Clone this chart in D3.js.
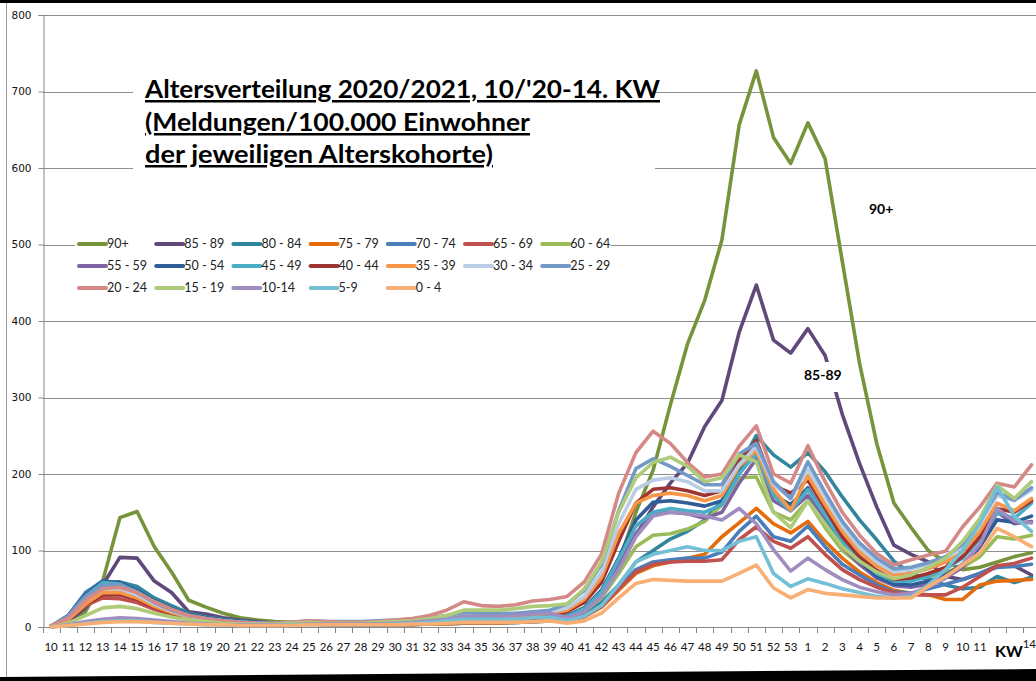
<!DOCTYPE html>
<html>
<head>
<meta charset="utf-8">
<style>
  body { margin: 0; background: #fff; }
  svg  { display: block; font-family: Lato, "Open Sans", sans-serif; }
</style>
<title>Altersverteilung 2020/2021</title>
</head>
<body>
<script src="https://cdn.jsdelivr.net/npm/d3@7/dist/d3.min.js"></script>
<script>

// data /////////////////////////////////////////////////////////////////////

// Kalenderwochen 10/2020 .. 14/2021
var weeks = [10,11,12,13,14,15,16,17,18,19,20,21,22,23,24,25,26,27,28,29,30,31,32,33,34,35,36,37,38,39,
             40,41,42,43,44,45,46,47,48,49,50,51,52,53,1,2,3,4,5,6,7,8,9,10,11,12,13,14];

// week labels hidden behind the "KW" box in the original
var hiddenWeeks = [55, 56];

var groups = ["90+", "85 - 89", "80 - 84", "75 - 79", "70 - 74", "65 - 69", "60 - 64",
              "55 - 59", "50 - 54", "45 - 49", "40 - 44", "35 - 39", "30 - 34", "25 - 29",
              "20 - 24", "15 - 19", "10-14", "5-9", "0 - 4"];

var colors = ["#77933C", "#5F497A", "#31859C", "#E46C0A", "#4A7EBB", "#C0504D", "#9BBB59",
              "#8064A2", "#2F5D96", "#4BACC6", "#9E3431", "#F79646", "#B9CDE5", "#7399C6",
              "#D58986", "#AECB7A", "#A08DC0", "#72BFD6", "#F9AE74"];

// Meldungen / 100.000 Einwohner, one value per week
var a90   = [2,5,20,60,143,151,105,72,35,26,18,12,9,7,6,6,5,5,4,4,4,4,5,6,7,7,7,8,9,11,
             15,25,45,85,150,205,290,370,427,506,656,727,640,606,659,612,478,345,240,162,130,100,85,75,78,85,92,97];
var a85   = [1,7,25,55,91,90,60,45,20,17,12,9,7,5,5,5,4,4,4,4,4,4,5,5,6,6,6,7,8,10,
             12,20,40,75,120,157,188,214,262,296,385,447,375,358,390,355,278,214,157,107,95,85,66,62,70,80,80,68];
var a80   = [1,10,40,57,59,53,38,28,18,13,10,8,6,5,4,4,4,3,3,3,3,3,4,4,5,5,5,6,7,8,
             10,18,32,55,85,100,115,125,140,165,210,250,225,209,228,203,170,140,114,86,70,62,55,50,52,66,58,65];
var a75   = [1,10,30,45,45,40,28,20,13,10,8,6,5,4,4,4,3,3,3,3,3,3,4,4,5,5,5,6,7,8,
             8,13,26,48,70,80,85,90,95,118,136,155,135,123,138,112,90,72,58,48,44,42,36,36,55,60,61,62];
var a70   = [1,15,45,60,57,45,32,22,14,10,8,6,5,4,4,4,3,3,3,3,4,4,5,5,6,6,6,6,7,8,
             8,14,28,52,75,85,88,90,90,98,125,145,118,112,132,105,82,68,55,46,44,50,56,62,70,78,79,82];
var a65   = [1,10,28,38,37,32,23,16,10,8,6,5,4,3,3,4,3,3,3,3,4,4,5,6,7,7,7,7,8,9,
             8,14,27,50,72,82,85,86,86,88,114,131,112,103,118,95,75,62,52,45,42,42,42,52,66,80,83,90];
var a60   = [1,12,35,50,50,42,30,21,14,10,8,6,5,4,4,5,4,4,4,4,5,5,6,7,8,8,8,8,9,10,
             12,20,38,70,105,120,122,128,138,160,195,196,150,140,165,130,100,82,68,60,62,66,72,78,92,118,115,120];
var a55   = [1,13,38,55,55,46,33,23,15,11,8,6,5,4,5,6,5,5,5,5,6,6,7,8,10,10,10,10,11,12,
             13,22,42,80,122,148,150,148,142,150,188,220,165,152,172,140,105,82,64,54,52,56,64,78,105,150,135,138];
var a50   = [1,15,42,60,58,48,34,24,16,12,9,7,5,4,5,6,5,5,5,5,6,7,8,9,11,11,11,11,12,14,
             15,25,48,90,140,163,165,162,158,165,205,235,172,160,182,146,110,86,66,56,55,60,68,82,105,140,137,145];
var a45   = [1,14,40,58,56,46,33,23,15,11,8,6,5,4,5,6,5,5,5,5,6,7,8,10,12,12,12,12,13,15,
             14,24,46,88,132,150,155,152,150,160,200,228,172,152,180,146,112,88,70,60,60,66,76,90,115,150,142,162];
var a40   = [1,10,30,42,42,36,26,18,12,9,7,5,4,4,4,6,5,5,5,5,6,7,8,10,12,12,12,12,13,15,
             20,32,58,112,162,180,182,178,172,178,218,244,185,175,192,155,118,92,74,62,64,70,78,92,118,155,150,165];
var a35   = [1,10,30,45,45,38,27,19,13,9,7,5,4,4,5,6,5,5,5,6,7,8,10,12,14,14,14,14,16,18,
             22,36,65,122,162,172,175,172,165,172,210,231,180,153,198,160,125,98,80,68,70,76,85,98,125,162,152,168];
var a30   = [1,12,35,50,50,42,30,21,14,10,8,6,5,4,5,7,6,6,6,7,8,9,11,13,16,16,16,16,18,20,
             25,40,72,135,180,192,195,190,178,178,212,236,186,168,206,170,132,104,85,72,75,82,90,105,135,172,165,179];
var a25   = [1,14,40,55,55,45,32,22,15,11,8,6,5,5,6,8,7,7,7,8,9,10,12,15,19,18,18,18,20,22,
             30,48,82,152,207,220,210,198,186,186,226,240,190,168,216,176,138,110,90,76,78,84,92,108,138,176,166,182];
var a20   = [1,12,35,50,52,45,33,23,15,11,8,6,5,5,6,8,7,6,6,7,9,11,15,22,33,28,27,29,34,36,
             40,59,95,175,228,256,240,215,196,200,236,263,200,188,237,190,150,120,96,81,88,94,99,131,157,188,183,212];
var a15   = [0,5,15,25,27,24,18,13,9,7,5,4,4,4,5,6,5,5,5,6,7,8,11,15,22,22,22,24,27,28,
             30,50,85,150,195,215,222,210,190,195,225,216,150,130,165,135,105,86,72,63,68,78,90,112,142,185,168,190];
var a10   = [0,3,7,10,12,11,9,7,5,4,3,3,3,3,3,4,4,4,4,4,5,6,8,10,14,14,14,15,17,18,
             12,20,40,75,118,145,150,148,145,140,155,135,101,73,90,75,62,52,46,42,44,52,64,82,108,155,138,136];
var a5    = [0,2,5,7,8,8,6,5,4,3,3,2,2,2,3,3,3,3,3,3,4,5,6,8,10,10,10,10,12,13,
             8,14,28,55,85,95,100,105,100,100,112,118,70,53,63,57,50,45,40,38,40,55,75,100,135,183,145,125];
var a0    = [0,2,4,6,7,7,6,5,4,3,3,2,2,2,2,3,3,3,3,3,3,4,4,5,6,6,6,6,7,8,
             5,8,18,38,57,62,61,60,60,60,70,81,51,38,49,44,42,40,38,38,38,53,66,81,97,129,118,105];

var values = [a90, a85, a80, a75, a70, a65, a60, a55, a50, a45, a40, a35, a30, a25, a20, a15, a10, a5, a0];

var yTicks = [0, 100, 200, 300, 400, 500, 600, 700, 800];

var series = groups.map((g, k) => ({ name: g, color: colors[k], values: values[k] }));

// chart ////////////////////////////////////////////////////////////////////

var W = 1036, H = 681;

var svg = d3.select('body').append('svg')
    .attr('width', W)
    .attr('height', H);

var x = d3.scaleBand()
    .domain(d3.range(weeks.length))
    .range([42.5, 42.5 + 17.2 * weeks.length]);

var y = d3.scaleLinear()
    .domain([0, 800])
    .range([627, 15]);

// gridlines
svg.append('g')
  .selectAll('line')
  .data(yTicks.filter(t => t > 0))
  .join('line')
    .attr('x1', 43).attr('x2', W)
    .attr('y1', d => Math.round(y(d)) + .5)
    .attr('y2', d => Math.round(y(d)) + .5)
    .attr('stroke', '#8e8e8e')
    .attr('stroke-width', 1.2);

// y axis
svg.append('g')
    .attr('transform', 'translate(43.5,0)')
    .call(d3.axisLeft(y).tickValues(yTicks).tickSize(5).tickPadding(7))
    .call(g => g.select('.domain').attr('stroke', '#868686'))
    .call(g => g.selectAll('.tick line').attr('stroke', '#868686'))
    .call(g => g.selectAll('text')
        .attr('font-family', '"DejaVu Sans", sans-serif')
        .attr('font-size', 10.5)
        .attr('fill', '#111'));

// x axis: labels on the weeks, ticks between them
svg.append('g')
    .attr('transform', 'translate(0,627.5)')
    .call(d3.axisBottom(x)
        .tickFormat(i => hiddenWeeks.includes(i) ? '' : weeks[i])
        .tickSize(0).tickPadding(15))
    .call(g => g.select('.domain').remove())
    .call(g => g.selectAll('text')
        .attr('font-family', 'Lato, sans-serif')
        .attr('font-size', 11.5)
        .attr('fill', '#111'))
    .call(g => g.selectAll('.tick').filter(i => i === weeks.length - 1)
        .select('text').attr('text-anchor', 'end').attr('x', 4.5).attr('dy', '0.45em'));

svg.append('line')
    .attr('x1', 43).attr('x2', W)
    .attr('y1', 627.5).attr('y2', 627.5)
    .attr('stroke', '#868686');

svg.append('g')
  .selectAll('line')
  .data(d3.range(weeks.length + 1))
  .join('line')
    .attr('x1', i => Math.round(i < weeks.length ? x(i) : x.range()[1]) + .5)
    .attr('x2', i => Math.round(i < weeks.length ? x(i) : x.range()[1]) + .5)
    .attr('y1', 627.5).attr('y2', 633)
    .attr('stroke', '#868686');

// series
var line = d3.line()
    .x((d, i) => x(i) + x.bandwidth() / 2)
    .y(d => y(d));

svg.append('g')
  .selectAll('path')
  .data(series)
  .join('path')
    .attr('d', s => line(s.values))
    .attr('fill', 'none')
    .attr('stroke', s => s.color)
    .attr('stroke-width', 3.6)
    .attr('stroke-linejoin', 'round')
    .attr('stroke-linecap', 'round');

// title box
var title = svg.append('g');
title.append('rect')
    .attr('x', 133).attr('y', 66).attr('width', 522).attr('height', 114)
    .attr('fill', '#fff');
var titleLines = [
    ["Altersverteilung 2020/2021, 10/'20-14. KW", 98, 515],
    ["(Meldungen/100.000 Einwohner", 131, 385],
    ["der jeweiligen Alterskohorte)", 163, 348],
];
title.selectAll('text')
  .data(titleLines)
  .join('text')
    .attr('x', 145)
    .attr('y', d => d[1])
    .attr('textLength', d => d[2])
    .attr('lengthAdjust', 'spacingAndGlyphs')
    .attr('font-size', 25)
    .attr('font-weight', 'bold')
    .attr('fill', '#000')
    .style('text-decoration', 'underline')
    .text(d => d[0]);

// legend
var legend = svg.append('g');
legend.append('rect')
    .attr('x', 75).attr('y', 233).attr('width', 536).attr('height', 66)
    .attr('fill', '#fff');
var entry = legend.selectAll('g')
  .data(series)
  .join('g')
    .attr('transform', (s, k) => `translate(${78 + 77.2 * (k % 7)},${244 + 22 * Math.floor(k / 7)})`);
entry.append('line')
    .attr('x1', 1).attr('x2', 28)
    .attr('stroke', s => s.color)
    .attr('stroke-width', 4)
    .attr('stroke-linecap', 'round');
entry.append('text')
    .attr('x', 29)
    .attr('dy', '0.35em')
    .attr('font-size', 12.5)
    .attr('fill', '#222')
    .text(s => s.name);

// data labels
svg.append('text')
    .attr('x', 869).attr('y', 214)
    .attr('font-size', 14).attr('font-weight', 'bold')
    .text('90+');

svg.append('rect')
    .attr('x', 802).attr('y', 362).attr('width', 44).attr('height', 30)
    .attr('fill', '#fff');
svg.append('text')
    .attr('x', 804).attr('y', 380)
    .attr('font-size', 14).attr('font-weight', 'bold')
    .text('85-89');

svg.append('rect')
    .attr('x', 990).attr('y', 636).attr('width', 31).attr('height', 26)
    .attr('fill', '#fff');
svg.append('text')
    .attr('x', 995).attr('y', 657)
    .attr('font-size', 16).attr('font-weight', 'bold')
    .text('KW');

// frame of the screenshot
svg.append('rect')
    .attr('x', 0).attr('y', 0).attr('width', W).attr('height', 3)
    .attr('fill', '#000');
svg.append('line')
    .attr('x1', 6.5).attr('x2', 6.5).attr('y1', 3).attr('y2', 677)
    .attr('stroke', '#9a9a9a');
svg.append('path')
    .attr('d', `M0,677L${W},669L${W},${H}L0,${H}Z`)
    .attr('fill', '#000');

</script>
</body>
</html>
